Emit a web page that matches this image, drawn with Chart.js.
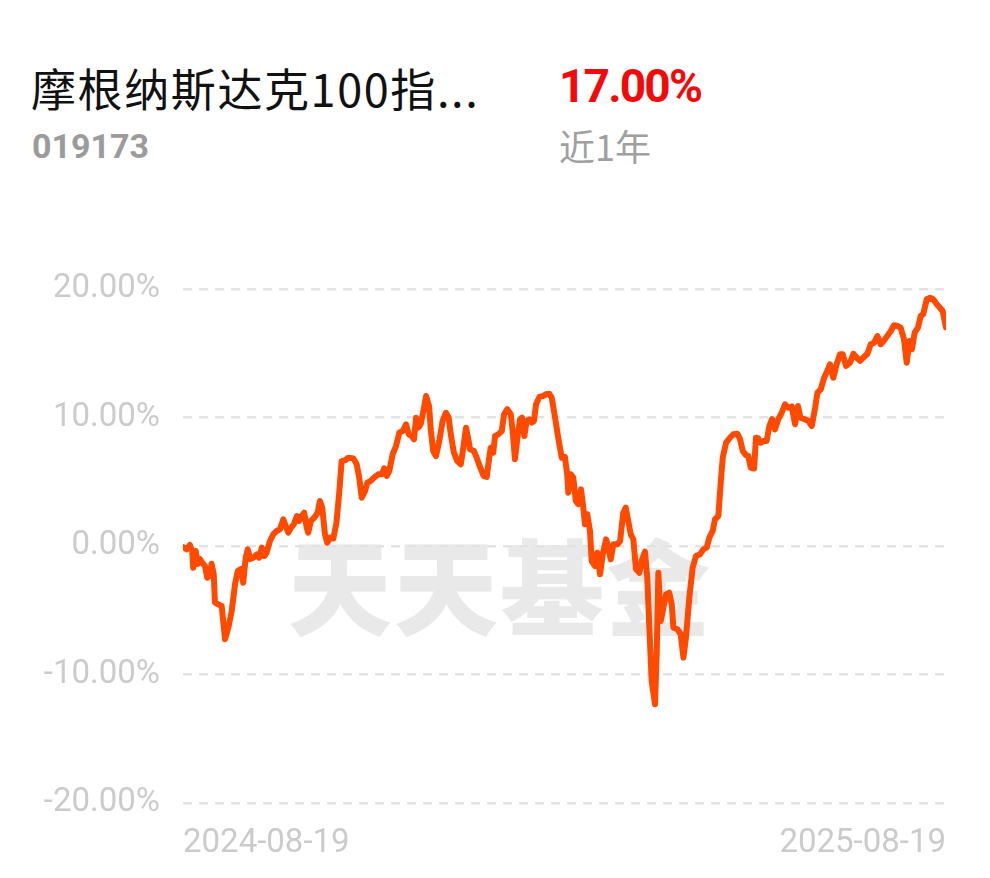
<!DOCTYPE html>
<html>
<head>
<meta charset="utf-8">
<script src="https://cdn.jsdelivr.net/npm/chart.js@4/dist/chart.umd.min.js"></script>
<style>
  html, body { margin: 0; padding: 0; background: #fff; }
  body { width: 990px; height: 878px; position: relative; overflow: hidden; }
  .txt { position: absolute; white-space: nowrap; line-height: 1; }
  #title { left: 31px; top: 55px; font: 45px "Noto Sans CJK SC", sans-serif; color: #111; letter-spacing: 1.6px; }
  #code { left: 32px; top: 126px; font: bold 34px Roboto, sans-serif; color: #9b9b9b; }
  #ret { left: 559px; top: 59px; font: bold 46px Roboto, sans-serif; color: #f20a0a; letter-spacing: -1.8px; }
  #period { left: 559px; top: 119px; font: 36px "Noto Sans CJK SC", sans-serif; color: #a0a0a0; }
  #mark { left: 288px; top: 507px; font: 900 104px "Noto Sans CJK SC", serif; color: #e9e9e9; letter-spacing: 2px; }
  #wrap { position: absolute; left: 0; top: 0; width: 990px; height: 878px; }
</style>
</head>
<body>
<div class="txt" id="title">摩根纳斯达克100指...</div>
<div class="txt" id="code">019173</div>
<div class="txt" id="ret">17.00%</div>
<div class="txt" id="period">近1年</div>
<div class="txt" id="mark">天天基金</div>
<div id="wrap"><canvas id="chart" width="990" height="878"></canvas></div>
<script>
// days since 2024-08-19, and the fund's cumulative return (%) on that day
const days = [
  0, 1.8, 3.3, 4.4, 4.9, 6.1, 7.0, 8.1, 9.2, 10.5, 11.6, 12.6, 13.7, 14.7, 15.3, 16.9, 18.5, 20.1, 21.7, 23.3,
  24.9, 26.2, 27.7, 28.8, 30.0, 31.0, 32.1, 33.6, 35.3, 36.4, 37.7, 38.9, 40.0, 41.6, 43.2, 44.8, 46.4, 48.0, 49.1, 50.4,
  51.7, 53.0, 54.5, 55.6, 56.8, 58.0, 59.2, 59.9, 61.2, 62.8, 64.4, 65.5, 66.6, 67.9, 69.0, 70.5, 71.9, 73.4, 74.8, 75.9,
  77.5, 79.1, 81.5, 83.1, 84.3, 85.5, 87.1, 88.2, 89.8, 91.4, 93.4, 95.1, 96.2, 97.5, 98.7, 100.3, 101.9, 103.5, 105.1, 106.7,
  108.0, 109.4, 110.5, 111.5, 112.6, 113.7, 115.0, 116.3, 117.7, 118.6, 119.7, 121.0, 122.6, 124.2, 125.8, 127.1, 128.1, 129.6, 131.2, 132.9,
  134.1, 135.4, 136.5, 137.3, 139.2, 140.5, 142.1, 143.8, 145.3, 146.5, 147.2, 148.4, 149.3, 150.8, 152.5, 153.6, 155.1, 156.8, 157.7, 158.8,
  159.9, 161.2, 162.2, 163.3, 164.4, 165.7, 166.8, 167.9, 168.9, 170.5, 172.1, 173.7, 175.2, 176.4, 178.0, 179.5, 181.2, 182.7, 183.8, 184.3,
  185.5, 186.7, 187.9, 189.1, 190.4, 191.5, 192.3, 193.4, 194.7, 195.5, 197.1, 198.2, 199.5, 200.8, 202.4, 203.5, 204.6, 205.9, 207.8, 209.1,
  210.6, 211.8, 213.0, 214.2, 215.4, 216.7, 218.3, 219.4, 221.0, 222.1, 223.1, 224.2, 225.8, 226.6, 227.4, 228.5, 229.8, 231.1, 232.6, 233.8,
  234.6, 236.5, 238.1, 239.4, 240.6, 242.2, 243.8, 245.4, 247.3, 248.9, 250.5, 251.8, 253.4, 254.5, 256.1, 257.3, 258.2, 259.8, 261.7, 263.3,
  265.2, 266.5, 267.8, 269.3, 270.4, 271.6, 273.2, 274.1, 275.2, 276.4, 277.6, 279.2, 280.5, 281.8, 283.2, 284.8, 286.4, 288.0, 289.6, 291.2,
  292.8, 294.2, 295.4, 297.6, 299.2, 300.8, 302.4, 303.5, 305.1, 306.7, 308.2, 309.5, 311.1, 312.7, 314.3, 315.6, 317.2, 319.1, 320.7, 322.3,
  323.9, 325.8, 327.4, 329.0, 330.6, 332.2, 333.8, 335.4, 336.9, 338.6, 340.1, 341.7, 343.3, 344.9, 346.2, 347.5, 348.7, 350.0, 351.6, 352.9,
  354.1, 355.8, 357.4, 358.9, 360.6, 362.1, 363.4, 365
];
const returns = [
  -0.08, -0.26, 0.08, -0.39, -1.69, -0.39, -1.40, -1.01, -1.30, -1.56, -2.47, -2.33, -1.38, -2.18, -4.41, -4.54, -4.67, -7.26, -6.36, -5.06,
  -2.96, -1.95, -1.79, -2.86, -0.91, -0.26, -1.01, -0.91, -0.65, -0.91, -0.13, -0.78, -0.52, 0.39, 0.91, 1.17, 1.30, 2.08, 1.56, 1.04,
  1.42, 1.69, 2.33, 1.95, 2.33, 2.59, 1.42, 1.04, 1.95, 2.20, 2.59, 3.50, 2.98, 0.91, 0.26, 0.65, 0.58, 1.79, 4.28, 6.61,
  6.67, 6.87, 6.82, 6.36, 5.32, 3.76, 4.28, 4.93, 5.06, 5.32, 5.58, 5.58, 6.05, 5.45, 5.84, 7.14, 7.78, 8.82, 8.95, 9.47,
  8.69, 8.56, 8.30, 9.98, 9.21, 9.47, 10.51, 11.67, 10.89, 8.95, 7.39, 7.00, 8.17, 9.73, 10.37, 9.98, 8.69, 7.26, 6.61, 6.36,
  7.65, 9.21, 8.30, 7.53, 7.39, 6.87, 6.15, 5.45, 5.37, 6.87, 7.65, 7.26, 8.56, 8.69, 8.95, 10.25, 10.64, 10.25, 8.95, 6.75,
  8.30, 9.86, 9.98, 8.56, 9.73, 9.86, 9.60, 9.73, 11.03, 11.60, 11.67, 11.81, 11.85, 11.54, 9.98, 8.43, 6.87, 6.93, 5.58, 4.15,
  5.58, 5.32, 3.50, 3.25, 4.41, 2.98, 1.69, 2.47, 1.17, -1.17, -1.56, -0.52, -2.20, -0.65, 0.52, -0.13, -1.04, 0.13, 0.13, 0.39,
  2.59, 2.98, 1.95, 0.91, 0.54, -1.79, -2.08, -1.17, -0.44, -2.47, -6.36, -10.51, -12.32, -8.40, -2.08, -5.84, -4.80, -3.76, -3.63, -4.54,
  -6.36, -6.48, -6.87, -8.69, -7.14, -4.02, -1.69, -0.78, -0.65, -0.26, -0.13, 0.65, 1.17, 2.08, 2.33, 5.06, 6.87, 8.04, 8.43, 8.69,
  8.74, 8.30, 7.39, 7.08, 7.00, 6.09, 6.03, 8.43, 8.37, 8.04, 8.17, 8.17, 9.34, 9.88, 9.08, 9.88, 10.37, 11.03, 10.76, 10.86,
  9.47, 10.89, 9.98, 9.86, 9.73, 9.34, 10.76, 11.93, 12.19, 13.10, 13.62, 14.14, 13.10, 14.14, 14.92, 14.92, 14.01, 14.26, 14.96, 14.65,
  14.40, 14.71, 14.96, 15.70, 15.82, 16.34, 15.70, 16.01, 16.34, 16.73, 17.18, 17.12, 16.99, 16.09, 14.26, 15.95, 15.31, 16.60, 16.99, 17.90,
  18.03, 19.20, 19.32, 19.20, 18.81, 18.54, 18.29, 17.00
];
const dateLabels = ["2024-08-19", "2025-08-19"];
const yTicks = [-20, -10, 0, 10, 20];

const tickColor = "#cbcbcb";
const tickFont = { family: "'Liberation Sans Narrow', Roboto, sans-serif", size: 33 };

new Chart(document.getElementById("chart"), {
  type: "line",
  data: {
    datasets: [{
      data: days.map(function (d, i) { return { x: d, y: returns[i] }; }),
      borderColor: "#ff4a00",
      backgroundColor: "transparent",
      borderWidth: 6,
      borderJoinStyle: "round",
      borderCapStyle: "round",
      tension: 0,
      pointRadius: 0,
    }],
  },
  options: {
    responsive: false,
    animation: false,
    layout: { padding: { top: 289, right: 44, left: 0, bottom: 0 } },
    plugins: { legend: { display: false }, tooltip: { enabled: false } },
    scales: {
      x: {
        type: "linear",
        min: 0,
        max: 365,
        afterBuildTicks: function (s) { s.ticks = [{ value: 0 }, { value: 365 }]; },
        afterFit: function (s) { s.height = 75; },
        grid: { display: false, drawTicks: false },
        border: { display: false },
        ticks: {
          color: tickColor,
          font: tickFont,
          padding: 21,
          align: "inner",
          maxRotation: 0,
          callback: function (v) { return v === 0 ? dateLabels[0] : dateLabels[1]; },
        },
      },
      y: {
        min: -20,
        max: 20,
        afterBuildTicks: function (s) { s.ticks = yTicks.map(function (v) { return { value: v }; }); },
        afterFit: function (s) { s.width = 183; },
        grid: { color: "#e3e3e3", lineWidth: 2.5, drawTicks: false },
        border: { display: false, dash: [9, 7] },
        ticks: {
          color: tickColor,
          font: tickFont,
          padding: 23,
          callback: function (v) { return v.toFixed(2) + "%"; },
        },
      },
    },
  },
});
</script>
</body>
</html>
